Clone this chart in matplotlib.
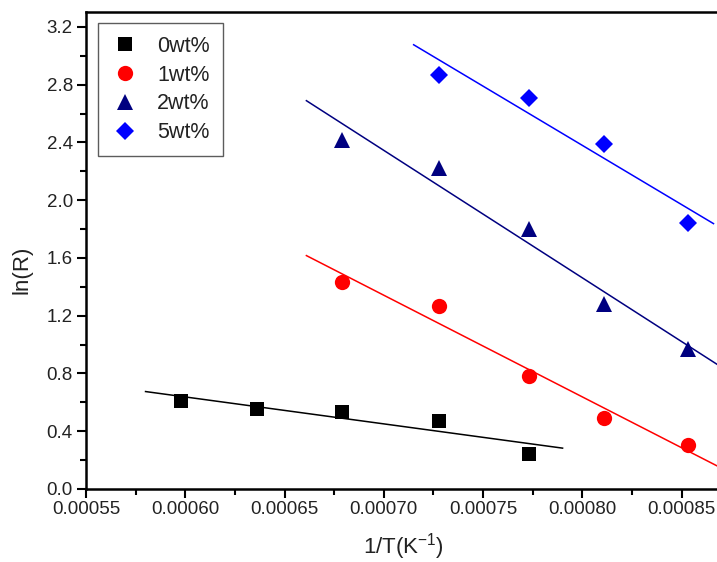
import numpy as np
import matplotlib
matplotlib.use('Agg')
import matplotlib.pyplot as plt

plt.rcParams['font.family'] = ['Liberation Sans', 'DejaVu Sans']
plt.rcParams['mathtext.fontset'] = 'custom'
plt.rcParams['mathtext.rm'] = 'Liberation Sans'
plt.rcParams['mathtext.default'] = 'regular'

# ln(R) versus 1/T for each loading
x_0wt = [0.000598, 0.000636, 0.000679, 0.000728, 0.000773]
y_0wt = [0.61, 0.555, 0.535, 0.473, 0.242]

x_1wt = [0.000679, 0.000728, 0.000773, 0.000811, 0.000853]
y_1wt = [1.436, 1.27, 0.785, 0.49, 0.305]

x_2wt = [0.000679, 0.000728, 0.000773, 0.000811, 0.000853]
y_2wt = [2.417, 2.22, 1.80, 1.28, 0.97]

x_5wt = [0.000728, 0.000773, 0.000811, 0.000853]
y_5wt = [2.867, 2.71, 2.387, 1.84]

labels = ['0wt%', '1wt%', '2wt%', '5wt%']
# x span of each fitted line
fit_spans = [(0.00058, 0.00079), (0.000661, 0.000871),
             (0.000661, 0.000871), (0.000715, 0.000866)]

series = [(x_0wt, y_0wt), (x_1wt, y_1wt), (x_2wt, y_2wt), (x_5wt, y_5wt)]
colors = ['black', '#ff0000', '#000080', '#0000ff']
markers = ['s', 'o', '^', 'D']
msizes = [9.5, 11, 11, 9.5]

fig = plt.figure(figsize=(7.17, 5.62), dpi=100)
ax = fig.add_axes([0.1199, 0.1299, 0.8863, 0.8479])

handles = []
for (xs, ys), c, m, ms, lab, span in zip(series, colors, markers, msizes, labels, fit_spans):
    h, = ax.plot(xs, ys, linestyle='none', marker=m, markersize=ms,
                 color=c, markeredgewidth=0, label=lab, zorder=3)
    handles.append(h)
    # linear fit of ln(R) against 1/T
    slope, icpt = np.polyfit(xs, ys, 1)
    xf = np.array(span)
    ax.plot(xf, slope * xf + icpt, color=c, linewidth=1.1, zorder=2)

ax.set_xlim(0.00055, 0.00087)
ax.set_ylim(0, 3.3)
ax.set_xticks(np.arange(0.00055, 0.000851, 0.00005))
ax.set_xticks(np.arange(0.000575, 0.00087, 0.00005), minor=True)
ax.set_yticks(np.arange(0, 3.21, 0.4))
ax.set_yticks(np.arange(0.2, 3.3, 0.4), minor=True)
ax.xaxis.set_major_formatter(matplotlib.ticker.FormatStrFormatter('%.5f'))
ax.yaxis.set_major_formatter(matplotlib.ticker.FormatStrFormatter('%.1f'))

for s in ax.spines.values():
    s.set_linewidth(1.8)
ax.tick_params(which='major', direction='out', length=6.5, width=1.5,
               labelsize=13.5, pad=3, labelcolor='#222222')
ax.tick_params(which='minor', direction='out', length=4, width=1.5)
ax.tick_params(axis='x', which='major', pad=2)

ax.set_xlabel('1/T(K$^{-1}$)', fontsize=16, color='#222222')
ax.set_ylabel('ln(R)', fontsize=16, color='#222222')
ax.xaxis.set_label_coords(0.5, -0.121)
ax.xaxis.label.set_va('center')
ax.yaxis.set_label_coords(-0.1007, 0.46)
ax.yaxis.label.set_va('center')

leg = ax.legend(handles=handles, loc='upper left', bbox_to_anchor=(0.0189, 0.978),
                borderaxespad=0, fontsize=15.5, frameon=True, fancybox=False,
                labelspacing=0.36, handlelength=1.3, handletextpad=0.85,
                borderpad=0.6)
leg.get_frame().set_edgecolor('#333333')
leg.get_frame().set_linewidth(1.0)
for t in leg.get_texts():
    t.set_color('#222222')

fig.savefig('out.png', dpi=100)
